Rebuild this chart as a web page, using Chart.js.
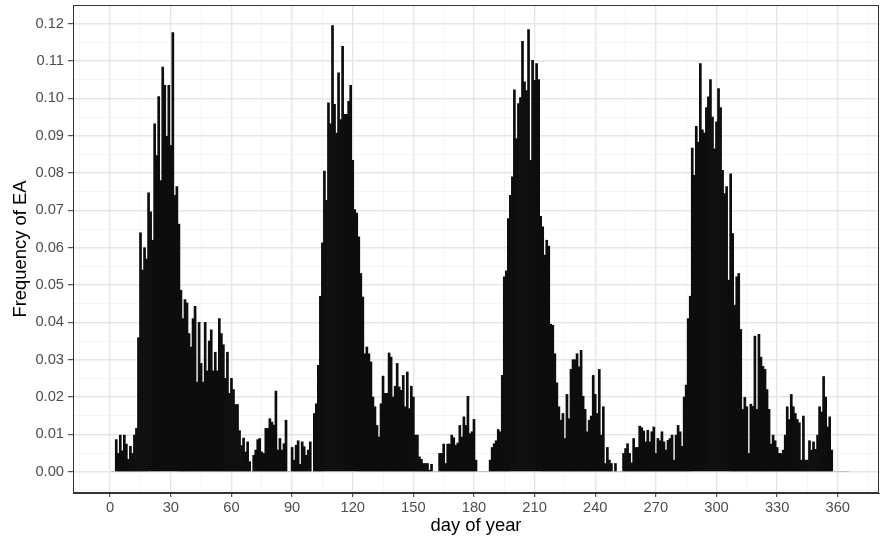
<!DOCTYPE html>
<html>
<head>
<meta charset="utf-8">
<script src="https://cdn.jsdelivr.net/npm/chart.js@4.4.1/dist/chart.umd.min.js"></script>
<style>
body{margin:0;background:#fff}
canvas{display:block}
</style>
</head>
<body>
<canvas id="eaChart" width="880" height="543"></canvas>
<script>
// frequency of EA for each day of year, day 1 .. 365
const freqEA = [
	0, 0, 0.0086, 0.0049, 0.0098, 0.0056, 0.0098, 0.0074, 0.0033, 0.0068,
	0.0049, 0.0098, 0.0116, 0.0359, 0.064, 0.054, 0.060, 0.057, 0.0747, 0.0696,
	0.062, 0.0932, 0.0847, 0.1005, 0.078, 0.1084, 0.1035, 0.0898, 0.1035, 0.0874,
	0.1176, 0.074, 0.0764, 0.0663, 0.0486, 0.041, 0.0461, 0.0452, 0.037, 0.0334,
	0.041, 0.0443, 0.024, 0.040, 0.029, 0.024, 0.040, 0.027, 0.035, 0.038,
	0.027, 0.032, 0.027, 0.041, 0.037, 0.034, 0.025, 0.032, 0.021, 0.025,
	0.022, 0.018, 0.018, 0.011, 0.007, 0.009, 0.0053, 0.008, 0.0027, 0,
	0.0044, 0.0058, 0.0086, 0.0089, 0.0053, 0.0049, 0.0116, 0.0116, 0.0142, 0.0133,
	0.0125, 0.0216, 0.0058, 0.0089, 0.0058, 0.0075, 0.0138, 0, 0, 0.0065,
	0.0031, 0.0071, 0.0083, 0.002, 0.008, 0.0067, 0.0044, 0.0058, 0.008, 0,
	0.0156, 0.0182, 0.0285, 0.047, 0.0613, 0.0805, 0.0727, 0.0988, 0.0932, 0.1195,
	0.0984, 0.0907, 0.1068, 0.0943, 0.1139, 0.0957, 0.0957, 0.0992, 0.1035, 0.0834,
	0.0702, 0.0693, 0.0629, 0.0531, 0.0468, 0.0316, 0.0334, 0.0316, 0.0294, 0.02,
	0.0174, 0.0124, 0.0093, 0.0182, 0.0256, 0.021, 0.021, 0.0318, 0.0307, 0.02,
	0.0229, 0.029, 0.0227, 0.0218, 0.0258, 0.0174, 0.0267, 0.0169, 0.0229, 0.02,
	0.0098, 0.0098, 0.004, 0.0033, 0.0022, 0.0022, 0.0022, 0.0004, 0.002, 0,
	0, 0, 0.0049, 0.0049, 0.0074, 0.0022, 0.0074, 0.0074, 0.0098, 0.0091,
	0.0071, 0.0077, 0.0124, 0.0093, 0.0147, 0.0124, 0.0202, 0.0102, 0.0107, 0.014,
	0.0031, 0, 0, 0, 0, 0, 0, 0.0031, 0.0065, 0.0075,
	0.0083, 0.0113, 0.0107, 0.0258, 0.0522, 0.0538, 0.0678, 0.074, 0.079, 0.1023,
	0.0892, 0.0986, 0.1002, 0.1153, 0.1044, 0.1021, 0.1184, 0.0834, 0.1102, 0.1048,
	0.1093, 0.105, 0.0684, 0.0656, 0.058, 0.062, 0.0604, 0.0395, 0.0392, 0.0316,
	0.0238, 0.0174, 0.0138, 0.0156, 0.0089, 0.0207, 0.0142, 0.0274, 0.03, 0.03,
	0.0316, 0.0281, 0.0325, 0.0202, 0.0167, 0.0107, 0.0138, 0.0149, 0.0258, 0.0207,
	0.0156, 0.0274, 0.0098, 0.0174, 0.0022, 0.0065, 0.0031, 0.0022, 0, 0.0022,
	0, 0, 0, 0.0049, 0.0062, 0.0075, 0.0049, 0.0024, 0.0089, 0.0065,
	0.0065, 0.0122, 0.0118, 0.0109, 0.008, 0.0111, 0.008, 0.0107, 0.012, 0.0049,
	0.0089, 0.0083, 0.0107, 0.008, 0.0058, 0.0084, 0.0089, 0.0098, 0.0031, 0.0098,
	0.0124, 0.0107, 0.0068, 0.02, 0.0232, 0.041, 0.047, 0.0867, 0.0794, 0.0925,
	0.0883, 0.1093, 0.0916, 0.0907, 0.0975, 0.1004, 0.105, 0.095, 0.0865, 0.0937,
	0.1026, 0.0975, 0.0807, 0.0745, 0.0764, 0.0513, 0.0798, 0.0638, 0.0446, 0.0522,
	0.0531, 0.0381, 0.0167, 0.0199, 0.0174, 0.0049, 0.0181, 0.0175, 0.0363, 0.0167,
	0.0368, 0.0307, 0.0282, 0.0274, 0.022, 0.0167, 0.0074, 0.0098, 0.0083, 0.0065,
	0.0049, 0.0049, 0.0058, 0.0098, 0.0174, 0.014, 0.0207, 0.0174, 0.0156, 0.014,
	0.0131, 0.0031, 0.0149, 0.0031, 0.0031, 0.0083, 0.0058, 0.008, 0.006, 0.0098,
	0.0174, 0.016, 0.0255, 0.02, 0.012, 0.0147, 0.0058, 0, 0, 0,
	0, 0, 0, 0, 0
]
const days = freqEA.map((v, i) => i + 1)

// axis breaks
const xBreaks = [0, 30, 60, 90, 120, 150, 180, 210, 240, 270, 300, 330, 360]
const yBreaks = [0, 0.01, 0.02, 0.03, 0.04, 0.05, 0.06, 0.07, 0.08, 0.09, 0.10, 0.11, 0.12]

const xTitle = 'day of year'
const yTitle = 'Frequency of EA'

// minor breaks sit half way between the major ones (ggplot style)
xMinor = [-15].concat(xBreaks.map(v => v + 15))
yMinor = [-0.005].concat(yBreaks.map(v => +(v + 0.005).toFixed(3)))

function isMajor(list, v){
	return list.some(b => Math.abs(b - v) < 1e-9)
}
function tickMajor(list, ctx){
	return ctx.tick ? isMajor(list, ctx.tick.value) : true
}

const fontFamily = '"Liberation Sans", Arial, Helvetica, sans-serif'

const panelBorder = {
	id: 'panelBorder',
	afterDraw(chart){
		const a = chart.chartArea
		const ctx = chart.ctx
		ctx.save()
		ctx.strokeStyle = '#333333'
		ctx.lineWidth = 1
		ctx.strokeRect(a.left + 0.5, a.top + 0.5, a.right - a.left - 1, a.bottom - a.top - 1)
		ctx.restore()
	}
}

data_points = days.map((d, i) => ({x: d, y: freqEA[i]}))

const canvas = document.getElementById('eaChart')
const myChart = new Chart(canvas, {
	type: 'bar',
	data: {
		datasets: [{
			label: 'EA',
			data: data_points,
			// empty days only show as a faint grey line on the zero level
			backgroundColor: ctx => (ctx.raw && ctx.raw.y === 0) ? '#b3b3b3' : '#0d0d0d',
			borderWidth: 0,
			barPercentage: 1,
			categoryPercentage: 1
		}]
	},
	options: {
		responsive: false,
		animation: false,
		devicePixelRatio: 1,
		layout: {padding: {top: 5, right: 1, left: 0, bottom: 0}},
		plugins: {
			legend: {display: false},
			tooltip: {enabled: false}
		},
		scales: {
			x: {
				type: 'linear',
				offset: false,
				min: -18.4,
				max: 380.4,
				afterBuildTicks: scale => {
					scale.ticks = xBreaks.concat(xMinor).sort((a, b) => a - b).map(v => ({value: v}))
				},
				afterFit: scale => {
					scale.height = 50
					scale.paddingLeft = 0
					scale.paddingRight = 0
				},
				grid: {
					offset: false,
					color: ctx => tickMajor(xBreaks, ctx) ? '#e6e6e6' : '#f2f2f2',
					lineWidth: ctx => tickMajor(xBreaks, ctx) ? 1.4 : 0.8,
					tickColor: ctx => tickMajor(xBreaks, ctx) ? '#333333' : 'rgba(0,0,0,0)',
					tickLength: 4,
					tickWidth: 1
				},
				border: {display: true, color: '#333333', width: 1},
				ticks: {
					autoSkip: false,
					maxRotation: 0,
					padding: 2,
					color: '#4d4d4d',
					font: {family: fontFamily, size: 14.7},
					callback: v => isMajor(xBreaks, v) ? String(v) : ''
				},
				title: {
					display: true,
					text: xTitle,
					color: '#000000',
					font: {family: fontFamily, size: 18.4},
					padding: {top: 0, bottom: 6}
				}
			},
			y: {
				type: 'linear',
				min: -0.0057,
				max: 0.125,
				afterBuildTicks: scale => {
					scale.ticks = yBreaks.concat(yMinor).sort((a, b) => a - b).map(v => ({value: v}))
				},
				afterFit: scale => {
					scale.width = 73
					scale.paddingTop = 0
					scale.paddingBottom = 0
				},
				grid: {
					color: ctx => tickMajor(yBreaks, ctx) ? '#e6e6e6' : '#f2f2f2',
					lineWidth: ctx => tickMajor(yBreaks, ctx) ? 1.4 : 0.8,
					tickColor: ctx => tickMajor(yBreaks, ctx) ? '#333333' : 'rgba(0,0,0,0)',
					tickLength: 5,
					tickWidth: 1
				},
				border: {display: true, color: '#333333', width: 1},
				ticks: {
					autoSkip: false,
					padding: 4,
					color: '#4d4d4d',
					font: {family: fontFamily, size: 14.7},
					callback: v => isMajor(yBreaks, v) ? v.toFixed(2) : ''
				},
				title: {
					display: true,
					text: yTitle,
					color: '#000000',
					font: {family: fontFamily, size: 18.4},
					padding: {top: 10, bottom: 0}
				}
			}
		}
	},
	plugins: [panelBorder]
})
</script>
</body>
</html>
